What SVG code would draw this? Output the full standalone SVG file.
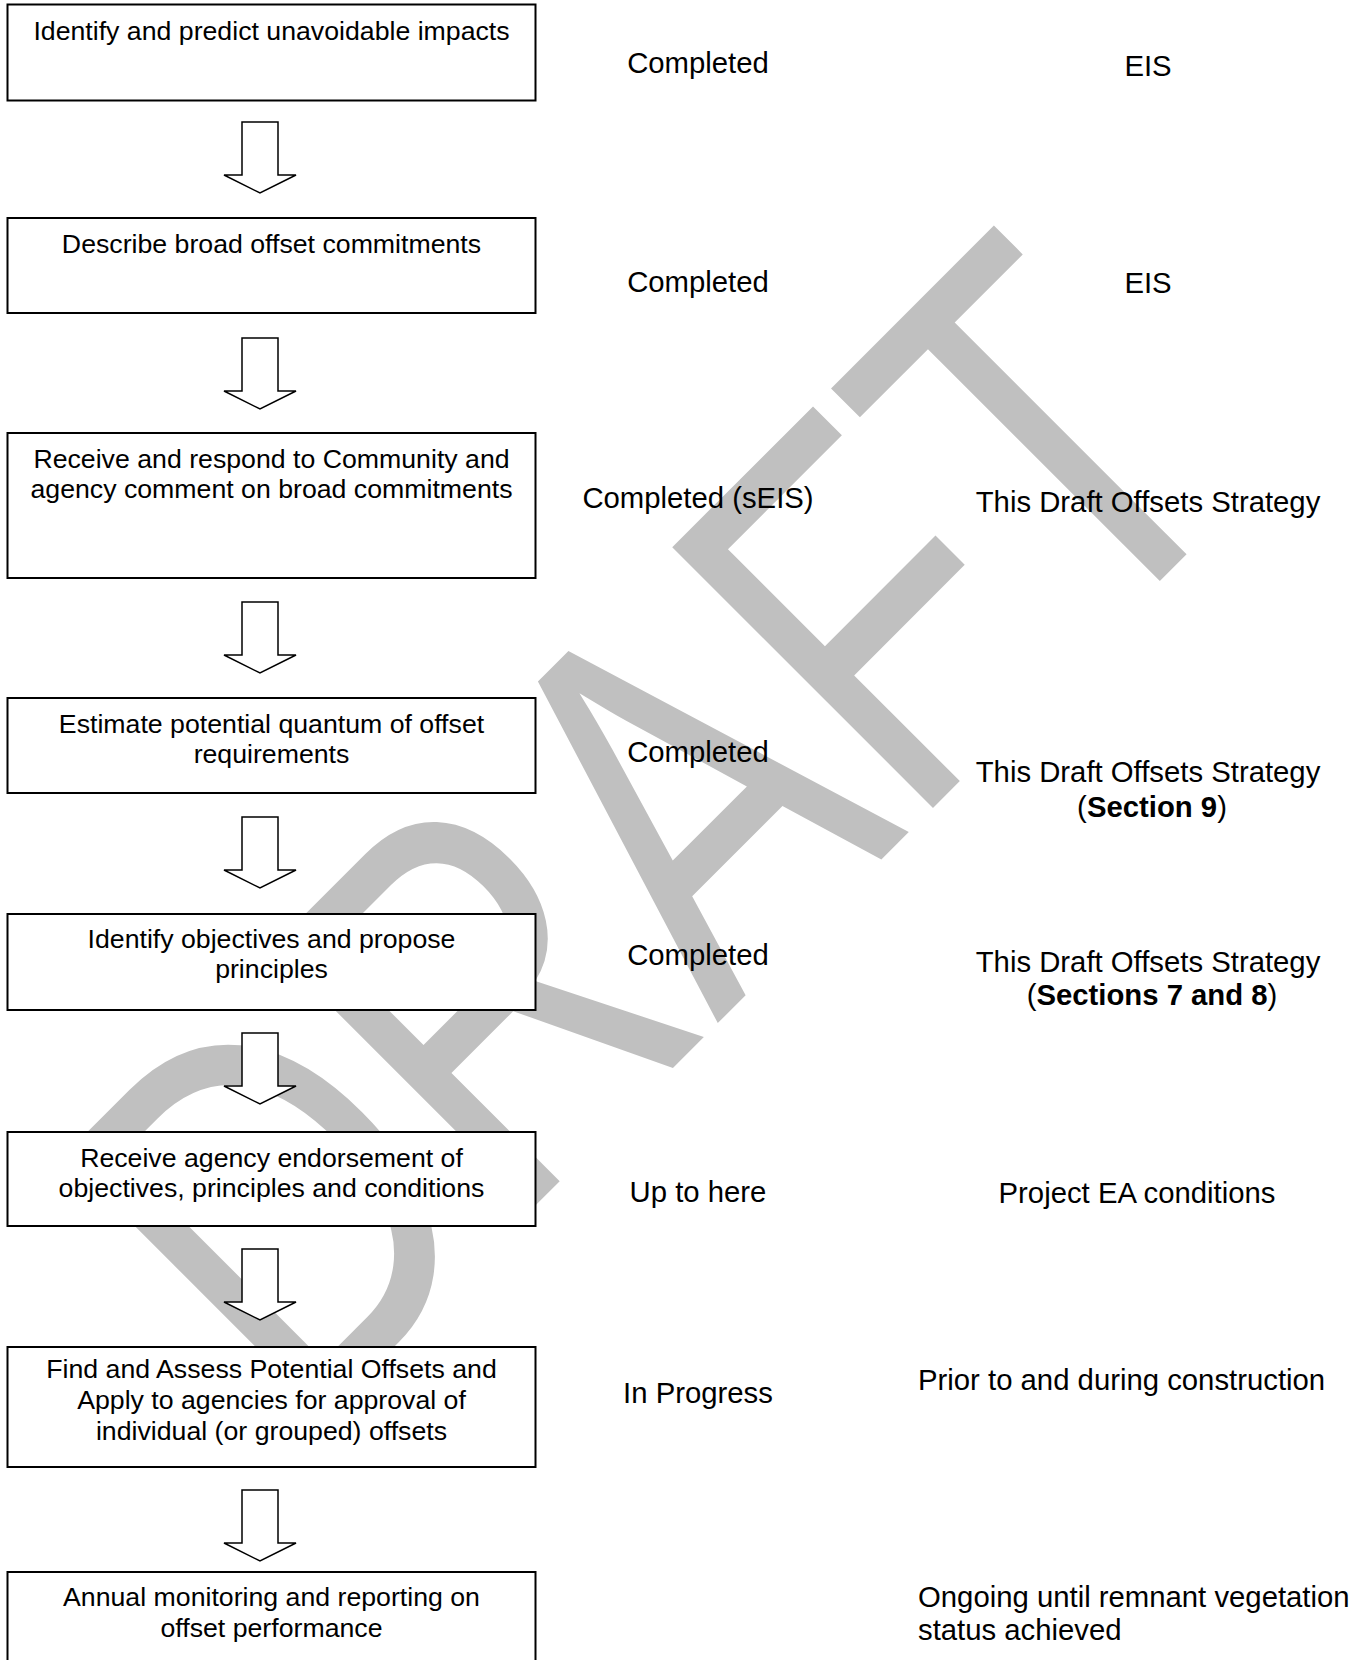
<svg xmlns="http://www.w3.org/2000/svg" width="1368" height="1660" viewBox="0 0 1368 1660">
<style>
  .box { fill: #ffffff; stroke: #000000; stroke-width: 2; }
  .arrow { fill: #ffffff; stroke: #000000; stroke-width: 1.5; stroke-linejoin: miter; }
  .bt { font-family: "Liberation Sans", Arial, sans-serif; font-size: 26.7px; fill: #000000; text-anchor: middle; }
  .rt { font-family: "Liberation Sans", Arial, sans-serif; font-size: 29.3px; fill: #000000; }
  .mid { text-anchor: middle; }
  .b { font-weight: bold; }
  .wm { font-family: "Liberation Sans", Arial, sans-serif; font-size: 536px; fill: #c0c0c0; }
</style>
<defs>
  <path id="arr" d="M242,0 H278 V53 H296 L260,71 L224,53 H242 Z"/>
</defs>
<rect width="1368" height="1660" fill="#ffffff"/>

<g id="watermark">
  <text class="wm" transform="translate(301.2,1439.7) rotate(-45) scale(0.76,1)">DRAFT</text>
</g>

<g id="connectors">
  <use href="#arr" class="arrow" y="122"/>
  <use href="#arr" class="arrow" y="338"/>
  <use href="#arr" class="arrow" y="602"/>
  <use href="#arr" class="arrow" y="817"/>
  <use href="#arr" class="arrow" y="1033"/>
  <use href="#arr" class="arrow" y="1249"/>
  <use href="#arr" class="arrow" y="1490"/>
</g>

<g id="step1">
  <rect class="box" x="7.5" y="4.5" width="528" height="96"/>
  <text class="bt" x="271.5" y="40">Identify and predict unavoidable impacts</text>
</g>
<g id="step2">
  <rect class="box" x="7.5" y="218" width="528" height="95"/>
  <text class="bt" x="271.5" y="253">Describe broad offset commitments</text>
</g>
<g id="step3">
  <rect class="box" x="7.5" y="433" width="528" height="145"/>
  <text class="bt" x="271.5" y="468">Receive and respond to Community and</text>
  <text class="bt" x="271.5" y="498">agency comment on broad commitments</text>
</g>
<g id="step4">
  <rect class="box" x="7.5" y="698" width="528" height="95"/>
  <text class="bt" x="271.5" y="733">Estimate potential quantum of offset</text>
  <text class="bt" x="271.5" y="763">requirements</text>
</g>
<g id="step5">
  <rect class="box" x="7.5" y="914" width="528" height="96"/>
  <text class="bt" x="271.5" y="948">Identify objectives and propose</text>
  <text class="bt" x="271.5" y="978">principles</text>
</g>
<g id="step6">
  <rect class="box" x="7.5" y="1132" width="528" height="94"/>
  <text class="bt" x="271.5" y="1167">Receive agency endorsement of</text>
  <text class="bt" x="271.5" y="1197">objectives, principles and conditions</text>
</g>
<g id="step7">
  <rect class="box" x="7.5" y="1347" width="528" height="120"/>
  <text class="bt" x="271.5" y="1378">Find and Assess Potential Offsets and</text>
  <text class="bt" x="271.5" y="1409">Apply to agencies for approval of</text>
  <text class="bt" x="271.5" y="1440">individual (or grouped) offsets</text>
</g>
<g id="step8">
  <rect class="box" x="7.5" y="1572" width="528" height="120"/>
  <text class="bt" x="271.5" y="1606">Annual monitoring and reporting on</text>
  <text class="bt" x="271.5" y="1637">offset performance</text>
</g>

<g id="status1">
  <text class="rt mid" x="698" y="73">Completed</text>
  <text class="rt mid" x="1148" y="76">EIS</text>
</g>
<g id="status2">
  <text class="rt mid" x="698" y="292">Completed</text>
  <text class="rt mid" x="1148" y="293">EIS</text>
</g>
<g id="status3">
  <text class="rt mid" x="698" y="508">Completed (sEIS)</text>
  <text class="rt mid" x="1148" y="512">This Draft Offsets Strategy</text>
</g>
<g id="status4">
  <text class="rt mid" x="698" y="762">Completed</text>
  <text class="rt mid" x="1148" y="782">This Draft Offsets Strategy</text>
  <text class="rt mid" x="1152" y="817">(<tspan class="b">Section 9</tspan>)</text>
</g>
<g id="status5">
  <text class="rt mid" x="698" y="965">Completed</text>
  <text class="rt mid" x="1148" y="972">This Draft Offsets Strategy</text>
  <text class="rt mid" x="1152" y="1005">(<tspan class="b">Sections 7 and 8</tspan>)</text>
</g>
<g id="status6">
  <text class="rt mid" x="698" y="1202">Up to here</text>
  <text class="rt mid" x="1137" y="1203">Project EA conditions</text>
</g>
<g id="status7">
  <text class="rt mid" x="698" y="1403">In Progress</text>
  <text class="rt" x="918" y="1390">Prior to and during construction</text>
</g>
<g id="status8">
  <text class="rt" x="918" y="1607">Ongoing until remnant vegetation</text>
  <text class="rt" x="918" y="1640">status achieved</text>
</g>
</svg>
